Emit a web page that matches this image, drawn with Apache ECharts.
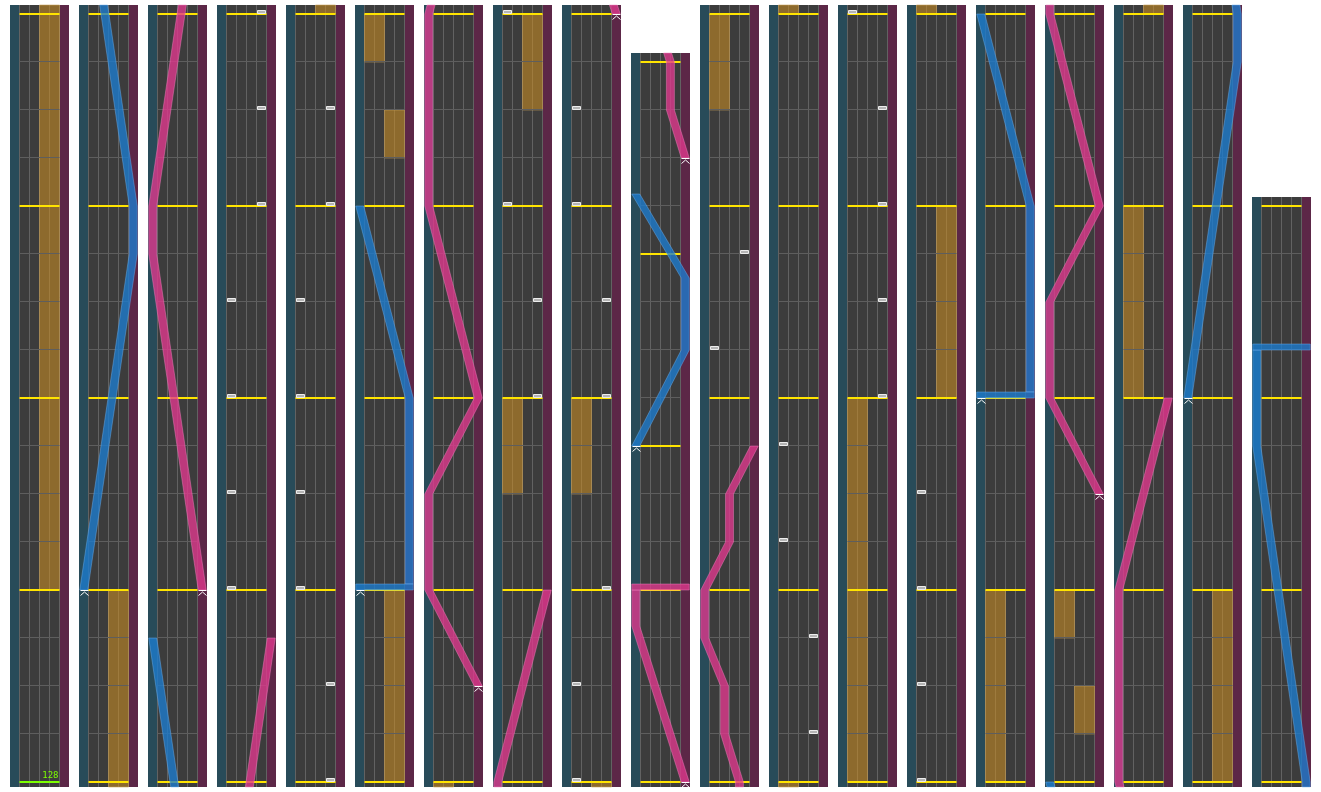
<!DOCTYPE html>
<html>
<head>
<meta charset="utf-8">
<script src="https://cdn.jsdelivr.net/npm/echarts@6.0.0/dist/echarts.min.js"></script>
<style>
  html, body { margin: 0; padding: 0; background: #fff; }
  #chart { width: 1321px; height: 792px; }
</style>
</head>
<body>
<div id="chart"></div>
<script>
// ---- chart data ----
var measureCount = 75
var timeSig = [[0, 4], [37, 3], [38, 4]]      // [measure index, beats per measure]
var measuresPerColumn = 4
var bpmChanges = [[0, 128]]                    // [beat, bpm]

// FX holds: [side 0=L 1=R, start beat, end beat]
var fxHolds = [
  [1, 4, 20], [1, 80, 84], [1, 93, 94], [0, 95, 96], [0, 118, 120],
  [1, 126, 128], [0, 134, 136], [0, 173, 175], [0, 191, 199], [1, 215, 219],
  [0, 223, 227], [1, 240, 241], [0, 242, 243], [0, 263, 267], [1, 271, 275]
]

// BT chips: [lane 0..3, beat]
var btChips = [
  [0, 52], [0, 54], [0, 56], [0, 58], [3, 60], [3, 62], [3, 64],
  [3, 66], [0, 68], [0, 70], [0, 72], [0, 74], [3, 76], [3, 78],
  [3, 120], [3, 122], [0, 124], [0, 128],
  [0, 130], [3, 132], [3, 136], [3, 138], [0, 140], [0, 142],
  [0, 168], [3, 170],
  [3, 176], [3, 178], [0, 180], [0, 182],
  [3, 199], [3, 201], [3, 203], [3, 205], [0, 207],
  [0, 209], [0, 211], [0, 213]
]

// lasers: lists of [beat, position 0..1]; same beat twice = slam
var laserLeft = [
  [[20, 0], [27, 1], [28, 1], [35, 0]],
  [[84, 0], [84, 1], [88, 1], [92, 0]],
  [[151, 0], [153, 1], [154.5, 1], [156.25, 0]],
  [[231, 0], [231, 1], [235, 1], [239, 0]],
  [[279, 0], [286, 1], [287, 1], [294, 0], [296, 0], [296, 1]]
]
var laserRight = [
  [[36, 1], [43, 0], [44, 0], [51, 1]],
  [[98, 1], [100, 0], [102, 0], [104, 1], [108, 0], [112, 0], [116, 1]],
  [[144, 1], [147.25, 0], [148, 0], [148, 1]],
  [[157, 1], [158, 0.7], [159, 0.7], [160, 0.4], [161, 0.4], [162, 0], [163, 0], [164, 0.5], [165, 0.5], [166, 1]],
  [[245, 1], [247, 0], [249, 0], [251, 1], [255, 0], [259, 0], [263, 1]]
]

// ---- layout / style ----
var PX_PER_BEAT = 48
var COL_LEFT = 10, COL_PITCH = 69, COL_W = 59, COL_BOTTOM = 787
var PAD_BOTTOM = 5, PAD_TOP = 9
var LANE_EDGES = [9.5, 19.5, 29.5, 39.5, 49.5]
var LASER_X0 = 4.75, LASER_SPAN = 49.5, LASER_HALF = 4
var SLAM_LEN = 0.125

var C = {
  leftStrip: '#284b59',
  rightStrip: '#5c2747',
  lanes: '#3c3c3c',
  laneLine: '#626262',
  beat: '#5e5e5e',
  measure: '#ffe400',
  bpm: '#7dff00',
  fx: 'rgba(205,142,34,0.56)',
  fxEdge: 'rgba(200,160,90,0.55)',
  chip: '#b4b4b4',
  chipEdge: '#ededed',
  blue: { fill: 'rgba(28,124,208,0.78)', edge: 'rgba(110,175,235,0.45)' },
  pink: { fill: 'rgba(226,56,142,0.78)', edge: 'rgba(240,130,190,0.45)' }
}

// ---- derived timing ----
function beatsInMeasure(m) {
  var b = 4
  timeSig.forEach(function (t) { if (m >= t[0]) b = t[1] })
  return b
}
var measureStarts = [0]
for (var m = 0; m < measureCount; m++) measureStarts.push(measureStarts[m] + beatsInMeasure(m))

var columns = []
for (var m = 0; m < measureCount; m += measuresPerColumn) {
  columns.push({ start: measureStarts[m], end: measureStarts[Math.min(m + measuresPerColumn, measureCount)] })
}

var lasers = laserLeft.map(function (p) { return { side: 'L', points: p } })
  .concat(laserRight.map(function (p) { return { side: 'R', points: p } }))

function laserX(v) { return LASER_X0 + LASER_SPAN * v }

function laserParts(pts) {
  var runs = [], slams = [], cur = [pts[0]]
  for (var i = 1; i < pts.length; i++) {
    if (pts[i][0] === pts[i - 1][0]) {
      slams.push([pts[i][0], pts[i - 1][1], pts[i][1]])
      if (cur.length > 1) runs.push(cur)
      cur = [[pts[i][0] + SLAM_LEN, pts[i][1]]]
    } else {
      cur.push(pts[i])
    }
  }
  if (cur.length > 1) runs.push(cur)
  return { runs: runs, slams: slams }
}

function clipRun(run, lo, hi) {
  var out = []
  for (var i = 0; i < run.length - 1; i++) {
    var a = run[i], b = run[i + 1]
    var t0 = Math.max(lo, a[0]), t1 = Math.min(hi, b[0])
    if (t0 >= t1) continue
    var at = function (t) { return [t, a[1] + (b[1] - a[1]) * (t - a[0]) / (b[0] - a[0])] }
    if (!out.length) out.push(at(t0))
    out.push(at(t1))
  }
  return out
}

// ---- renderers ----
function makeLanes(col) {
  return function (params, api) {
    var cs = params.coordSys
    var px = function (u) { return api.coord([u, col.start])[0] }
    var l0 = px(LANE_EDGES[0]), l4 = px(LANE_EDGES[4])
    var kids = [
      { type: 'rect', shape: { x: cs.x, y: cs.y, width: l0 - cs.x, height: cs.height }, style: { fill: C.leftStrip } },
      { type: 'rect', shape: { x: l0, y: cs.y, width: l4 - l0, height: cs.height }, style: { fill: C.lanes } },
      { type: 'rect', shape: { x: l4, y: cs.y, width: cs.x + cs.width - l4, height: cs.height }, style: { fill: C.rightStrip } }
    ]
    LANE_EDGES.forEach(function (e) {
      var x = Math.round(px(e)) - 0.5
      kids.push({ type: 'line', shape: { x1: x, y1: cs.y, x2: x, y2: cs.y + cs.height }, style: { stroke: C.laneLine, lineWidth: 1 } })
    })
    return { type: 'group', children: kids }
  }
}

function makeFx(lo, hi) {
  return function (params, api) {
    var side = api.value(0)
    var s = Math.max(lo, api.value(1)), e = Math.min(hi, api.value(2))
    var a = api.coord([LANE_EDGES[side * 2], e])
    var b = api.coord([LANE_EDGES[side * 2 + 2], s])
    return {
      type: 'rect',
      shape: { x: a[0], y: a[1], width: b[0] - a[0], height: b[1] - a[1] },
      style: { fill: C.fx, stroke: C.fxEdge, lineWidth: 1 }
    }
  }
}

function renderBeatLine(params, api) {
  var b = api.value(0), isMeasure = api.value(1)
  var p0 = api.coord([LANE_EDGES[0], b]), p1 = api.coord([LANE_EDGES[4], b])
  var y = isMeasure ? Math.round(p0[1]) : Math.round(p0[1]) - 0.5
  return {
    type: 'line',
    shape: { x1: p0[0], y1: y, x2: p1[0], y2: y },
    style: { stroke: isMeasure ? C.measure : C.beat, lineWidth: isMeasure ? 2 : 1 }
  }
}

function renderBpm(params, api) {
  var b = api.value(0)
  var p0 = api.coord([LANE_EDGES[0], b]), p1 = api.coord([LANE_EDGES[4], b])
  var y = Math.round(p0[1])
  return {
    type: 'group',
    children: [
      { type: 'line', shape: { x1: p0[0], y1: y, x2: p1[0], y2: y }, style: { stroke: C.bpm, lineWidth: 2 } },
      { type: 'text', style: { text: String(api.value(1)), x: p1[0] - 1, y: y - 2, fill: C.bpm, font: '9px "DejaVu Sans Mono"', align: 'right', verticalAlign: 'bottom' } }
    ]
  }
}

function renderChip(params, api) {
  var lane = api.value(0), b = api.value(1)
  var p0 = api.coord([LANE_EDGES[lane] + 1, b]), p1 = api.coord([LANE_EDGES[lane + 1] - 1, b])
  return {
    type: 'rect',
    shape: { x: p0[0], y: Math.round(p0[1]) - 3.5, width: p1[0] - p0[0], height: 3 },
    style: { fill: C.chip, stroke: C.chipEdge, lineWidth: 1 }
  }
}

function makeLaser(lo, hi) {
  return function (params, api) {
    var L = lasers[api.value(0)]
    var col = L.side === 'L' ? C.blue : C.pink
    var parts = laserParts(L.points)
    var kids = []
    parts.runs.forEach(function (run) {
      var r = clipRun(run, lo, hi)
      if (r.length < 2) return
      var left = r.map(function (p) { return api.coord([laserX(p[1]) - LASER_HALF, p[0]]) })
      var right = r.map(function (p) { return api.coord([laserX(p[1]) + LASER_HALF, p[0]]) }).reverse()
      kids.push({ type: 'polygon', shape: { points: left.concat(right) }, style: { fill: col.fill, stroke: col.edge, lineWidth: 1 } })
    })
    parts.slams.forEach(function (s) {
      var b0 = Math.max(lo, s[0]), b1 = Math.min(hi, s[0] + SLAM_LEN)
      if (b0 >= b1) return
      var a = api.coord([laserX(Math.min(s[1], s[2])) - LASER_HALF, b1])
      var c = api.coord([laserX(Math.max(s[1], s[2])) + LASER_HALF, b0])
      kids.push({ type: 'rect', shape: { x: a[0], y: a[1], width: c[0] - a[0], height: c[1] - a[1] }, style: { fill: col.fill, stroke: col.edge, lineWidth: 1 } })
    })
    var st = L.points[0]
    if (st[0] >= lo && st[0] <= hi) {
      var m = api.coord([laserX(st[1]), st[0]])
      var x = Math.round(m[0]) + 0.5, y = Math.round(m[1]) + 0.5
      kids.push({ type: 'polyline', shape: { points: [[x - 4, y], [x + 4, y]] }, style: { stroke: '#ffffff', lineWidth: 1, fill: null } })
      kids.push({ type: 'polyline', shape: { points: [[x - 4, y + 5], [x, y + 1.5], [x + 4, y + 5]] }, style: { stroke: '#ffffff', lineWidth: 1, fill: null } })
    }
    return { type: 'group', children: kids }
  }
}

// ---- build option ----
var grids = [], xAxes = [], yAxes = [], series = []

columns.forEach(function (col, i) {
  var h = (col.end - col.start) * PX_PER_BEAT + PAD_BOTTOM + PAD_TOP
  var lo = col.start - PAD_BOTTOM / PX_PER_BEAT
  var hi = col.end + PAD_TOP / PX_PER_BEAT
  grids.push({ left: COL_LEFT + COL_PITCH * i, top: COL_BOTTOM - h, width: COL_W, height: h, containLabel: false })
  xAxes.push({ gridIndex: i, type: 'value', min: 0, max: COL_W, show: false })
  yAxes.push({ gridIndex: i, type: 'value', min: lo, max: hi, show: false })

  var beats = []
  for (var b = col.start; b <= col.end; b++) {
    if (bpmChanges.some(function (c) { return c[0] === b })) continue
    beats.push([b, measureStarts.indexOf(b) >= 0 ? 1 : 0])
  }

  var base = { type: 'custom', xAxisIndex: i, yAxisIndex: i, silent: true, animation: false }
  series.push(Object.assign({}, base, { name: 'lanes', z: 1, data: [[0, col.start]], renderItem: makeLanes(col) }))
  series.push(Object.assign({}, base, {
    name: 'fx', z: 2,
    data: fxHolds.filter(function (f) { return f[2] > lo && f[1] < hi }),
    renderItem: makeFx(lo, hi)
  }))
  series.push(Object.assign({}, base, { name: 'beats', z: 3, data: beats, renderItem: renderBeatLine }))
  series.push(Object.assign({}, base, {
    name: 'bpm', z: 4,
    data: bpmChanges.filter(function (c) { return c[0] >= lo && c[0] <= hi }),
    renderItem: renderBpm
  }))
  series.push(Object.assign({}, base, {
    name: 'bt', z: 5,
    data: btChips.filter(function (c) { return c[1] >= lo && c[1] <= hi }),
    renderItem: renderChip
  }))
  var laserData = []
  lasers.forEach(function (L, k) {
    var s = L.points[0][0], e = L.points[L.points.length - 1][0] + SLAM_LEN
    if (e > lo && s < hi) laserData.push([k, s])
  })
  series.push(Object.assign({}, base, { name: 'laser', z: 6, data: laserData, renderItem: makeLaser(lo, hi) }))
})

var chart = echarts.init(document.getElementById('chart'))
chart.setOption({
  animation: false,
  backgroundColor: '#ffffff',
  grid: grids,
  xAxis: xAxes,
  yAxis: yAxes,
  series: series
})
</script>
</body>
</html>
